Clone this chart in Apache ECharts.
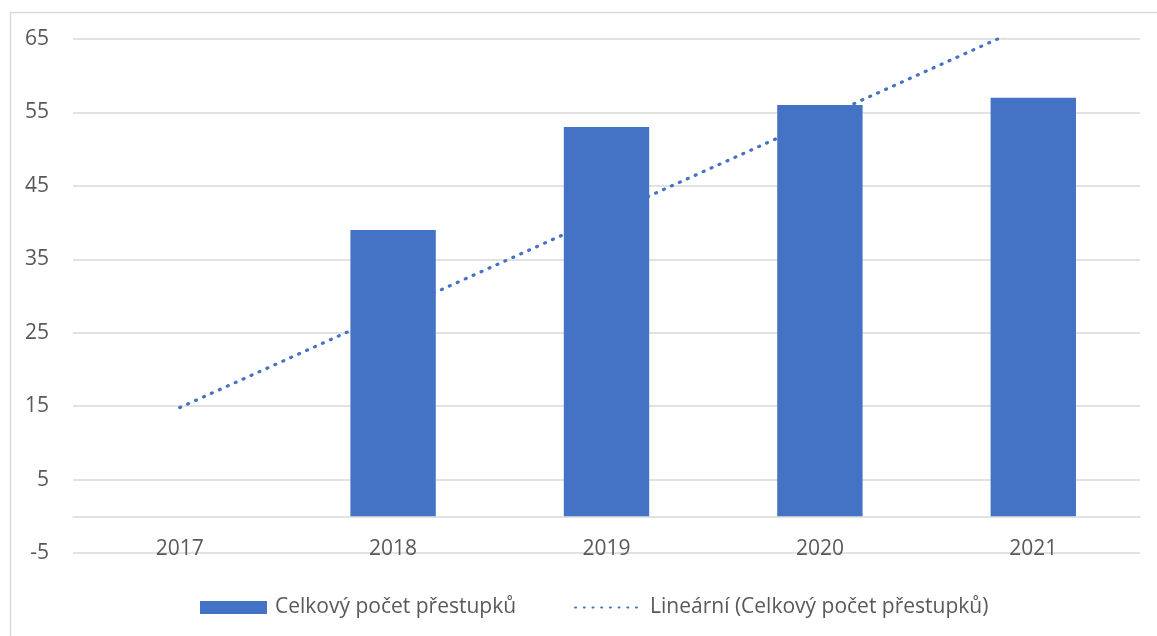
<!DOCTYPE html>
<html>
<head>
<meta charset="utf-8">
<script src="https://cdn.jsdelivr.net/npm/echarts@6/dist/echarts.min.js"></script>
<style>
html,body{margin:0;padding:0;background:#fff;}
#chart{width:1157px;height:636px;}
</style>
</head>
<body>
<div id="chart"></div>
<script>
const categories = ['2017', '2018', '2019', '2020', '2021'];
const offences = [0, 39, 53, 56, 57];
const trendValues = [14.8, 27.9, 41.0, 54.1, 67.2];
const barName = 'Celkový počet přestupků';
const trendName = 'Lineární (Celkový počet přestupků)';
const yMin = -5, yMax = 65, yStep = 10;

const FONT = '"Open Sans", "Noto Sans", sans-serif';
const TXT = '#595959';
const GRID = '#d9d9d9';
const BLUE = '#4472C4';

const chart = echarts.init(document.getElementById('chart'), null, {renderer: 'canvas'});
chart.setOption({
  animation: false,
  backgroundColor: '#fff',
  textStyle: {fontFamily: FONT},
  graphic: [{
    type: 'rect', left: 8, top: 10, silent: true, z: -10,
    shape: {width: 1170, height: 650},
    style: {fill: 'none', stroke: GRID, lineWidth: 1.5}
  }],
  grid: {left: 73, right: 17, top: 39, height: 514, containLabel: false},
  legend: {
    left: 195, top: 592,
    itemGap: 58,
    itemWidth: 67, itemHeight: 13,
    textStyle: {color: TXT, fontSize: 21, fontFamily: FONT, padding: [0, 0, 0, 3]},
    data: [
      {name: barName, icon: 'rect'},
      {name: trendName, itemStyle: {opacity: 0}}
    ]
  },
  xAxis: {
    type: 'category',
    data: categories,
    axisLine: {onZero: true, lineStyle: {color: GRID, width: 1.5}},
    axisTick: {show: false},
    axisLabel: {color: TXT, fontSize: 21, fontFamily: FONT, margin: -14},
    splitLine: {show: false}
  },
  yAxis: {
    type: 'value',
    min: yMin, max: yMax, interval: yStep,
    axisLine: {show: false},
    axisTick: {show: false},
    axisLabel: {color: TXT, fontSize: 21, fontFamily: FONT, margin: 24},
    splitLine: {lineStyle: {color: GRID, width: 1.5}}
  },
  series: [
    {
      name: barName,
      type: 'bar',
      data: offences,
      barWidth: '40%',
      itemStyle: {color: BLUE},
      z: 2
    },
    {
      name: trendName,
      type: 'line',
      data: trendValues,
      symbol: 'none',
      clip: true,
      itemStyle: {color: BLUE},
      lineStyle: {color: BLUE, width: 3.2, type: [1, 7.7], cap: 'round'},
      z: 3
    }
  ]
});
</script>
</body>
</html>
